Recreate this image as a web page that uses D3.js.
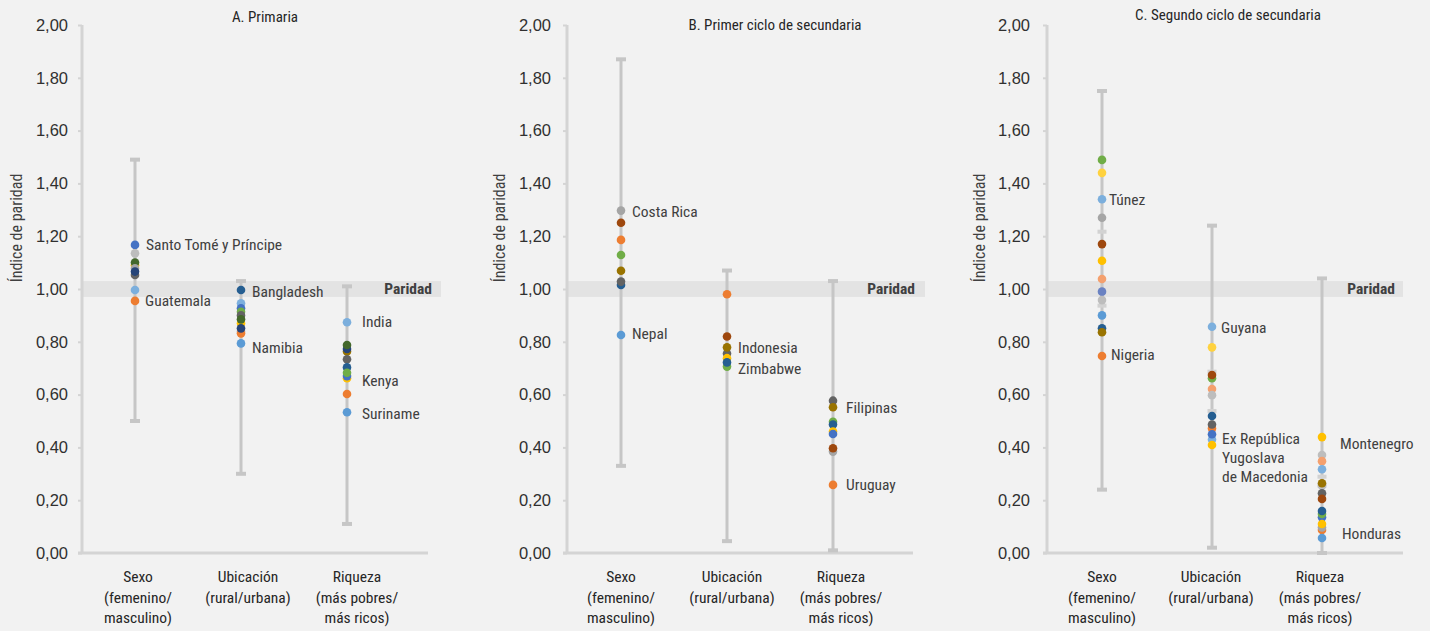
<!DOCTYPE html>
<html><head><meta charset="utf-8">
<script src="https://cdn.jsdelivr.net/npm/d3@7"></script>
<style>
html,body{margin:0;padding:0;background:#f2f2f2;}
svg{display:block;font-family:"Liberation Sans Narrow","Roboto Condensed",Roboto,sans-serif;}
</style></head>
<body><svg id="c" width="1430" height="631"></svg>
<script>
// ---------- DATA ----------
const panelTitles = ["A. Primaria", "B. Primer ciclo de secundaria", "C. Segundo ciclo de secundaria"];
const categories = [["Sexo","(femenino/","masculino)"],["Ubicación","(rural/urbana)"],["Riqueza","(más pobres/","más ricos)"]];
const yTicks = [0,0.2,0.4,0.6,0.8,1.0,1.2,1.4,1.6,1.8,2.0];
const yTitle = "Índice de paridad";
const parityLabel = "Paridad";
const parityBand = [0.97, 1.03];

// min / max whiskers per category
const rangeA = [[0.50,1.49],[0.30,1.03],[0.11,1.01]];
const rangeB = [[0.33,1.87],[0.045,1.07],[0.01,1.03]];
const rangeC = [[0.24,1.75],[0.02,1.24],[0.00,1.04]];
// secondary whiskers (only visible in panel C)
const innerRangeC = [[0.937,1.217],[0.538,0.687],[0.255,0.289]];

// dot values per category, with colour key
const dotsA = [
  [[1.167,"blue"],[1.135,"lgray"],[1.090,"yellow"],[1.100,"dkgreen"],[1.078,"gray"],[1.053,"dkgray"],[1.066,"navy"],[0.996,"sky"],[0.955,"orange"]],
  [[0.996,"dkblue"],[0.946,"sky"],[0.927,"blue"],[0.914,"green"],[0.900,"dkgray"],[0.870,"yellow"],[0.885,"dkgreen"],[0.840,"lgray"],[0.832,"orange"],[0.851,"navy"],[0.794,"ltblue"]],
  [[0.874,"sky"],[0.763,"gold"],[0.773,"navy"],[0.788,"dkgreen"],[0.734,"dkgray"],[0.703,"dkblue"],[0.662,"yellow"],[0.670,"blue"],[0.683,"green"],[0.602,"orange"],[0.533,"ltblue"]]
];
const dotsB = [
  [[1.297,"gray"],[1.251,"brown"],[1.186,"orange"],[1.129,"green"],[1.069,"gold"],[1.015,"dkblue"],[1.028,"dkgray"],[0.826,"ltblue"]],
  [[0.980,"orange"],[0.820,"brown"],[0.756,"dkgray"],[0.779,"gold"],[0.738,"yellow"],[0.706,"green"],[0.722,"dkblue"]],
  [[0.577,"dkgray"],[0.552,"gold"],[0.497,"green"],[0.487,"dkblue"],[0.460,"yellow"],[0.451,"blue"],[0.384,"gray"],[0.397,"brown"],[0.258,"orange"]]
];
const dotsC = [
  [[1.489,"green"],[1.440,"lyellow"],[1.340,"sky"],[1.270,"gray"],[1.170,"brown"],[1.107,"yellow"],[1.038,"lorange"],[0.990,"mblue"],[0.958,"lgray"],[0.900,"ltblue"],[0.851,"dkblue"],[0.836,"gold"],[0.746,"orange"]],
  [[0.857,"sky"],[0.779,"lyellow"],[0.662,"green"],[0.674,"brown"],[0.621,"lorange"],[0.598,"lgray"],[0.519,"dkblue"],[0.472,"orange"],[0.487,"dkgray"],[0.430,"sky"],[0.450,"blue"],[0.409,"yellow"]],
  [[0.439,"yellow"],[0.371,"lgray"],[0.348,"lorange"],[0.317,"sky"],[0.255,"lgray"],[0.264,"gold"],[0.226,"dkgray"],[0.205,"brown"],[0.135,"blue"],[0.148,"green"],[0.159,"dkblue"],[0.087,"orange"],[0.097,"gray"],[0.110,"yellow"],[0.057,"ltblue"]]
];

// country annotations: [category index, label lines, value at label]
const labelsA = [[0,["Santo Tomé y Príncipe"],1.167],[0,["Guatemala"],0.955],[1,["Bangladesh"],0.989],[1,["Namibia"],0.78],[2,["India"],0.875],[2,["Kenya"],0.655],[2,["Suriname"],0.53]];
const labelsB = [[0,["Costa Rica"],1.295],[0,["Nepal"],0.83],[1,["Indonesia"],0.777],[1,["Zimbabwe"],0.70],[2,["Filipinas"],0.55],[2,["Uruguay"],0.258]];
const labelsC = [[0,["Túnez"],1.34],[0,["Nigeria"],0.75],[1,["Guyana"],0.852],[1,["Ex República","Yugoslava","de Macedonia"],0.432],[2,["Montenegro"],0.413],[2,["Honduras"],0.072]];

// ---------- STYLE / LAYOUT ----------
const palette = {
  blue:"#4472C4", orange:"#ED7D31", gray:"#A5A5A5", yellow:"#FFC000", ltblue:"#5B9BD5", green:"#70AD47",
  navy:"#264478", brown:"#9E480E", dkgray:"#636363", gold:"#997300", dkblue:"#255E91", dkgreen:"#43682B",
  mblue:"#6A82C2", lorange:"#F4A06E", lgray:"#BDBDBD", lyellow:"#FFD23F", sky:"#7CAFDD"
};
const layout = [
  {axisX:82,   bandRight:441,  axisRight:428,  cat:[135,347],   lab:[138,248,357],   titleX:265,  titleY:22, yTitleX:22,  tickRight:68,   parX:432,
   labDx:[11,10,11,11,15,15,15]},
  {axisX:567,  bandRight:925,  axisRight:913,  cat:[621,833],   lab:[621,732,841],   titleX:775,  titleY:30, yTitleX:505, tickRight:551,  parX:915,
   labDx:[11,11,11,11,13,13]},
  {axisX:1047, bandRight:1403, axisRight:1403, cat:[1102,1322], lab:[1102,1211,1320], titleX:1228, titleY:20, yTitleX:985, tickRight:1030, parX:1395,
   labDx:[7,9,9,10,18,20]}
];
const textCol = "#404040";
const barCol = "#C6C6C6";
const axisCol = "#D4D4D4";

const svg = d3.select("#c");
svg.append("rect").attr("width",1430).attr("height",631).attr("fill","#f2f2f2");

const y = d3.scaleLinear().domain([0,2]).range([553,25]);
const fmt = v => d3.format(".2f")(v).replace(".", ",");

const allRanges = [rangeA, rangeB, rangeC];
const allInner = [null, null, innerRangeC];
const allDots = [dotsA, dotsB, dotsC];
const allLabels = [labelsA, labelsB, labelsC];

layout.forEach((L, p) => {
  const g = svg.append("g");
  const x = d3.scalePoint().domain([0,1,2]).range(L.cat);
  const xl = d3.scaleOrdinal().domain([0,1,2]).range(L.lab);

  // parity band
  g.append("rect").attr("x",L.axisX).attr("width",L.bandRight-L.axisX)
    .attr("y",y(parityBand[1])).attr("height",y(parityBand[0])-y(parityBand[1]))
    .attr("fill","#e3e3e3");

  // y axis
  const ax = g.append("g").attr("transform",`translate(${L.axisX},0)`)
    .call(d3.axisLeft(y).tickValues(yTicks).tickFormat(fmt).tickSize(4).tickPadding(10));
  ax.select(".domain").attr("stroke",axisCol).attr("stroke-width",3).attr("d",`M0,${y(2)}V${y(0)}`);
  ax.selectAll(".tick line").attr("stroke",axisCol).attr("stroke-width",2);
  ax.selectAll(".tick text").attr("fill","#303030").attr("font-size",16.5)
    .attr("x",-(L.axisX-L.tickRight)).attr("font-family","inherit");

  // x axis baseline
  g.append("line").attr("x1",L.axisX-4).attr("x2",L.axisRight).attr("y1",y(0)).attr("y2",y(0))
    .attr("stroke",axisCol).attr("stroke-width",3);

  // y title
  g.append("text").attr("transform",`translate(${L.yTitleX},228) rotate(-90)`)
    .attr("text-anchor","middle").attr("fill",textCol).attr("font-size",16).text(yTitle);

  // panel title
  g.append("text").attr("x",L.titleX).attr("y",L.titleY).attr("text-anchor","middle")
    .attr("fill","#262626").attr("font-size",15).text(panelTitles[p]);

  // parity label
  g.append("text").attr("x",L.parX).attr("y",y(1)).attr("dy","0.35em").attr("text-anchor","end")
    .attr("fill","#404040").attr("font-size",15.5).attr("font-weight","bold").text(parityLabel);

  // whiskers
  const drawRange = (rng, capW, col, sw, withLine) => {
    rng.forEach((r,i) => {
      const cx = x(i);
      if (withLine) g.append("line").attr("x1",cx).attr("x2",cx).attr("y1",y(r[0])).attr("y2",y(r[1]))
        .attr("stroke",col).attr("stroke-width",sw);
      r.forEach(v => g.append("line").attr("x1",cx-capW/2).attr("x2",cx+capW/2).attr("y1",y(v)).attr("y2",y(v))
        .attr("stroke",col).attr("stroke-width",4));
    });
  };
  drawRange(allRanges[p], 10, barCol, 3, true);
  if (allInner[p]) drawRange(allInner[p], 9, "#d2d2d2", 3, false);

  // dots
  allDots[p].forEach((arr,i) => {
    g.selectAll(null).data(arr).enter().append("circle")
      .attr("cx",x(i)).attr("cy",d=>y(d[0])).attr("r",4.3)
      .attr("fill",d=>palette[d[1]]);
  });

  // annotations
  allLabels[p].forEach((lab,k) => {
    const t = g.append("text").attr("y",y(lab[2]))
      .attr("fill",textCol).attr("font-size",15.5);
    lab[1].forEach((ln,j) => t.append("tspan").attr("x",x(lab[0])+L.labDx[k]).attr("dy", j===0?"0.35em":"1.2em").text(ln));
  });

  // category labels
  categories.forEach((lines,i) => {
    const t = g.append("text").attr("text-anchor","middle").attr("fill","#262626").attr("font-size",15.5);
    lines.forEach((ln,j) => t.append("tspan").attr("x",xl(i)).attr("y",577+j*20.5).attr("dy","0.35em").text(ln));
  });
});
</script></body></html>
